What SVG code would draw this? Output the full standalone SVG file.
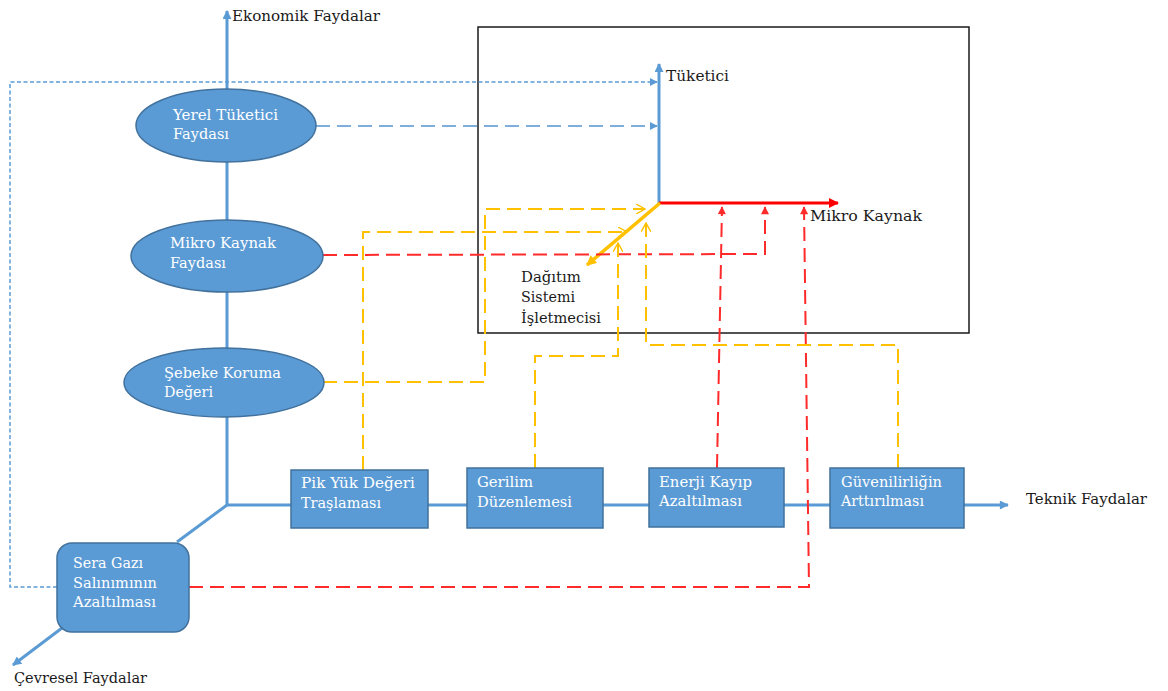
<svg xmlns="http://www.w3.org/2000/svg" width="1168" height="691" viewBox="0 0 1168 691">
<style>
.lbl{font-family:"DejaVu Serif","Liberation Serif",serif;font-size:15px;fill:#1a1a1a}
.nt{font-family:"DejaVu Serif","Liberation Serif",serif;font-size:15px;fill:#ffffff}
.node{fill:#5B9BD5;stroke:#41719C;stroke-width:1.5}
.axis{fill:none;stroke:#5B9BD5;stroke-width:3}
.bdot{fill:none;stroke:#5B9BD5;stroke-width:1.5;stroke-dasharray:4 2.5}
.bdash{fill:none;stroke:#7FAEDD;stroke-width:2;stroke-dasharray:14 7}
.rdash{fill:none;stroke:#FF2A2A;stroke-width:2;stroke-dasharray:14 7}
.ydash{fill:none;stroke:#FFC000;stroke-width:2;stroke-dasharray:14 7}
</style>
<defs>
<marker id="mB" viewBox="0 0 10 10" refX="9" refY="5" markerWidth="11" markerHeight="9" orient="auto" markerUnits="userSpaceOnUse"><path d="M0,0 L10,5 L0,10 z" fill="#5B9BD5"/></marker>
<marker id="mR" viewBox="0 0 10 10" refX="9" refY="5" markerWidth="12" markerHeight="10" orient="auto" markerUnits="userSpaceOnUse"><path d="M0,0 L10,5 L0,10 z" fill="#FF0000"/></marker>
<marker id="mY" viewBox="0 0 10 10" refX="9" refY="5" markerWidth="12" markerHeight="10" orient="auto" markerUnits="userSpaceOnUse"><path d="M0,0 L10,5 L0,10 z" fill="#FFC000"/></marker>
<marker id="mBs" viewBox="0 0 10 10" refX="9" refY="5" markerWidth="8" markerHeight="8" orient="auto" markerUnits="userSpaceOnUse"><path d="M0,0 L10,5 L0,10 z" fill="#5B9BD5"/></marker>
<marker id="mRs" viewBox="0 0 10 10" refX="9" refY="5" markerWidth="9" markerHeight="8" orient="auto" markerUnits="userSpaceOnUse"><path d="M0,0 L10,5 L0,10 z" fill="#FF2A2A"/></marker>
<marker id="mYo" viewBox="0 0 10 10" refX="9" refY="5" markerWidth="10" markerHeight="10" orient="auto" markerUnits="userSpaceOnUse"><path d="M0,0 L9,5 L0,10" fill="none" stroke="#FFC000" stroke-width="1.4"/></marker>
</defs>
<rect width="1168" height="691" fill="#ffffff"/>

<g id="frame">
<rect x="478" y="27" width="491" height="306" fill="none" stroke="#1a1a1a" stroke-width="1.5"/>
</g>

<g id="connectors">
<line class="axis" x1="227" y1="505" x2="227" y2="11" marker-end="url(#mB)"/>
<line class="axis" x1="227" y1="505" x2="1008" y2="505" marker-end="url(#mB)"/>
<line class="axis" x1="227" y1="505" x2="177" y2="542"/>
<line class="axis" x1="62" y1="628" x2="13" y2="665" marker-end="url(#mB)"/>
<line x1="659" y1="204" x2="659" y2="64" stroke="#5B9BD5" stroke-width="3" marker-end="url(#mB)"/>
<line x1="659" y1="203" x2="838" y2="203" stroke="#FF0000" stroke-width="3" marker-end="url(#mR)"/>
<line x1="660" y1="203" x2="587" y2="265" stroke="#FFC000" stroke-width="3.5" marker-end="url(#mY)"/>
<polyline class="bdot" points="57,587 10,587 10,82 657,82" marker-end="url(#mBs)"/>
<line class="bdash" x1="316" y1="126" x2="657" y2="126" marker-end="url(#mBs)"/>
<polyline class="rdash" points="323,255 765,254 765,207" marker-end="url(#mRs)"/>
<line class="rdash" x1="717" y1="468" x2="722" y2="207" marker-end="url(#mRs)"/>
<polyline class="rdash" points="189,587 809,587 804,207" marker-end="url(#mRs)"/>
<polyline class="ydash" points="323,382 485,382 485,209 645,209" marker-end="url(#mYo)"/>
<polyline class="ydash" points="363,470 363,232 627,232" marker-end="url(#mYo)"/>
<polyline class="ydash" points="535,468 535,356 618,356 618,243" marker-end="url(#mYo)"/>
<polyline class="ydash" points="898,468 898,345 646,345 646,223" marker-end="url(#mYo)"/>
</g>

<g id="labels">
<text class="lbl" x="232" y="21" textLength="148" lengthAdjust="spacingAndGlyphs">Ekonomik Faydalar</text>
<text class="lbl" x="666" y="81" textLength="63" lengthAdjust="spacingAndGlyphs">Tüketici</text>
<text class="lbl" x="810" y="221" textLength="112" lengthAdjust="spacingAndGlyphs">Mikro Kaynak</text>
<text class="lbl" x="521" y="282" textLength="60" lengthAdjust="spacingAndGlyphs">Dağıtım</text>
<text class="lbl" x="521" y="302" textLength="54" lengthAdjust="spacingAndGlyphs">Sistemi</text>
<text class="lbl" x="521" y="323" textLength="80" lengthAdjust="spacingAndGlyphs">İşletmecisi</text>
<text class="lbl" x="1026" y="504" textLength="121" lengthAdjust="spacingAndGlyphs">Teknik Faydalar</text>
<text class="lbl" x="14" y="683" textLength="133" lengthAdjust="spacingAndGlyphs">Çevresel Faydalar</text>
</g>

<g id="yerel">
<ellipse class="node" cx="226" cy="125.5" rx="90" ry="36.5"/>
<text class="nt" x="173" y="120" textLength="105" lengthAdjust="spacingAndGlyphs">Yerel Tüketici</text>
<text class="nt" x="173" y="139" textLength="56" lengthAdjust="spacingAndGlyphs">Faydası</text>
</g>
<g id="mikro">
<ellipse class="node" cx="227" cy="256" rx="96" ry="36"/>
<text class="nt" x="170" y="248" textLength="106" lengthAdjust="spacingAndGlyphs">Mikro Kaynak</text>
<text class="nt" x="170" y="268" textLength="56" lengthAdjust="spacingAndGlyphs">Faydası</text>
</g>
<g id="sebeke">
<ellipse class="node" cx="224" cy="382.5" rx="100" ry="34.5"/>
<text class="nt" x="164" y="378" textLength="117" lengthAdjust="spacingAndGlyphs">Şebeke Koruma</text>
<text class="nt" x="164" y="397" textLength="49" lengthAdjust="spacingAndGlyphs">Değeri</text>
</g>
<g id="pik">
<rect class="node" x="291" y="470" width="137" height="58"/>
<text class="nt" x="301" y="488" textLength="114" lengthAdjust="spacingAndGlyphs">Pik Yük Değeri</text>
<text class="nt" x="301" y="508" textLength="80" lengthAdjust="spacingAndGlyphs">Traşlaması</text>
</g>
<g id="gerilim">
<rect class="node" x="467" y="468" width="136" height="60"/>
<text class="nt" x="477" y="487" textLength="56" lengthAdjust="spacingAndGlyphs">Gerilim</text>
<text class="nt" x="477" y="507" textLength="95" lengthAdjust="spacingAndGlyphs">Düzenlemesi</text>
</g>
<g id="enerji">
<rect class="node" x="649" y="468" width="135" height="59"/>
<text class="nt" x="659" y="487" textLength="93" lengthAdjust="spacingAndGlyphs">Enerji Kayıp</text>
<text class="nt" x="659" y="506" textLength="83" lengthAdjust="spacingAndGlyphs">Azaltılması</text>
</g>
<g id="guvenilirlik">
<rect class="node" x="830" y="468" width="134" height="60"/>
<text class="nt" x="841" y="487" textLength="101" lengthAdjust="spacingAndGlyphs">Güvenilirliğin</text>
<text class="nt" x="841" y="506" textLength="83" lengthAdjust="spacingAndGlyphs">Arttırılması</text>
</g>
<g id="sera">
<rect class="node" x="57" y="543" width="132" height="89" rx="15" ry="15"/>
<text class="nt" x="73" y="568" textLength="70" lengthAdjust="spacingAndGlyphs">Sera Gazı</text>
<text class="nt" x="73" y="588" textLength="84" lengthAdjust="spacingAndGlyphs">Salınımının</text>
<text class="nt" x="73" y="607" textLength="83" lengthAdjust="spacingAndGlyphs">Azaltılması</text>
</g>
</svg>
